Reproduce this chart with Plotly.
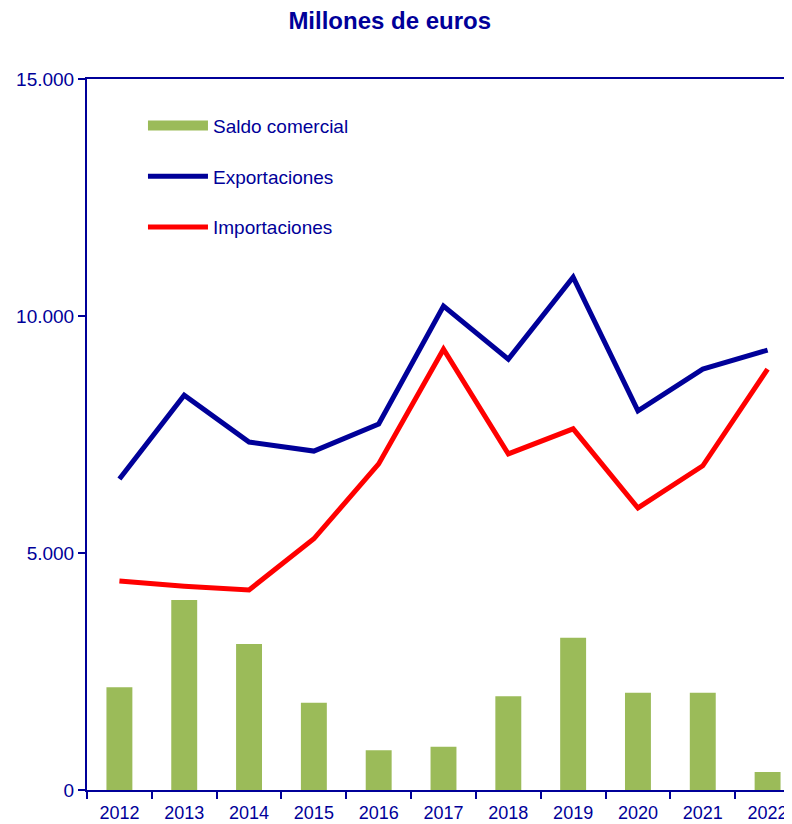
import plotly.graph_objects as go

years = ["2012", "2013", "2014", "2015", "2016", "2017", "2018", "2019", "2020", "2021", "2022"]
exportaciones = [6560, 8330, 7340, 7150, 7720, 10210, 9090, 10820, 8000, 8880, 9280]
importaciones = [4410, 4300, 4220, 5300, 6880, 9300, 7090, 7620, 5950, 6840, 8880]
saldo = [2170, 4010, 3080, 1840, 840, 910, 1980, 3210, 2050, 2050, 380]

navy = "#000099"
green = "#9BBB59"
font = "Liberation Sans, Arial, sans-serif"

fig = go.Figure()

fig.add_trace(go.Bar(
    x=years, y=saldo, name="Saldo comercial",
    marker=dict(color=green, line=dict(width=0)),
    width=0.4, showlegend=False
))
# legend entry for the bars, drawn as a wide green block like the original
fig.add_trace(go.Scatter(
    x=[None], y=[None], name="Saldo comercial", mode="lines",
    line=dict(color=green, width=10), legendgroup="a"
))
fig.add_trace(go.Scatter(
    x=years, y=exportaciones, name="Exportaciones", mode="lines",
    line=dict(color=navy, width=5), legendgroup="b"
))
fig.add_trace(go.Scatter(
    x=years, y=importaciones, name="Importaciones", mode="lines",
    line=dict(color="#FF0000", width=5), legendgroup="c"
))

fig.update_layout(
    width=792, height=824,
    title=dict(text="<b>Millones de euros</b>", x=0.482, xanchor="center",
               y=0.985, yanchor="middle",
               font=dict(family=font, size=24, color=navy)),
    font=dict(family=font, size=18, color=navy),
    separators=",.",
    plot_bgcolor="white", paper_bgcolor="white",
    margin=dict(l=79, r=0, t=71, b=42),
    showlegend=True,
    legend=dict(x=0.0785, y=0.961, xanchor="left", yanchor="top",
                traceorder="grouped", tracegroupgap=23,
                font=dict(family=font, size=19, color=navy),
                bgcolor="rgba(0,0,0,0)", itemwidth=60),
)

fig.update_xaxes(
    range=[-0.5, 10.5], showline=True, linecolor=navy, linewidth=2,
    mirror=True, ticks="outside", tickson="boundaries", ticklen=7,
    tickcolor=navy, tickwidth=2, showgrid=False, ticklabelstandoff=5,
    tickfont=dict(family=font, size=18, color=navy),
)
fig.update_yaxes(
    range=[0, 15000], tickvals=[0, 5000, 10000, 15000], tickformat=",",
    showline=True, linecolor=navy, linewidth=2, ticks="outside",
    ticklen=7, tickcolor=navy, tickwidth=2, showgrid=False, zeroline=False,
    tickfont=dict(family=font, size=19, color=navy),
)

fig.write_html("out.html")
